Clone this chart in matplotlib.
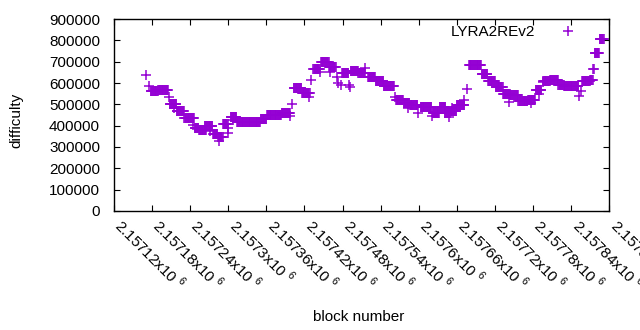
import numpy as np
import matplotlib
matplotlib.use("Agg")
import matplotlib.pyplot as plt
from matplotlib.transforms import ScaledTranslation

plt.rcParams['font.family'] = ['Liberation Sans', 'DejaVu Sans']
plt.rcParams['mathtext.fontset'] = 'custom'
plt.rcParams['mathtext.rm'] = 'Liberation Sans'

# runs of blocks with the same difficulty (offset from 2157120)
run_start = [50, 55, 58, 70, 87, 88, 95, 99, 111, 125, 127, 134, 143, 151, 156, 164, 166,
             172, 179, 180, 184, 188, 194, 231, 241, 264, 278, 281, 283, 296, 307, 311,
             314, 324, 326, 339, 340, 351, 353, 357, 359, 370, 371, 373, 385, 396, 400,
             412, 425, 442, 444, 456, 463, 466, 479, 483, 501, 502, 513, 521, 527, 530,
             532, 540, 552, 556, 559, 579, 589, 601, 613, 622, 624, 637, 652, 657, 664,
             669, 675, 676, 687, 700, 709, 732, 736, 737, 750, 755, 757, 765]
run_end = [50, 55, 69, 85, 87, 98, 95, 110, 126, 125, 133, 145, 155, 151, 163, 171, 166,
           179, 179, 180, 193, 188, 230, 240, 263, 277, 278, 281, 295, 308, 307, 311,
           324, 324, 338, 349, 340, 351, 353, 357, 369, 370, 371, 384, 395, 396, 411,
           424, 441, 442, 455, 465, 463, 478, 479, 500, 501, 512, 522, 529, 527, 539,
           532, 552, 552, 556, 578, 588, 600, 612, 623, 622, 636, 651, 663, 657, 673,
           669, 675, 686, 699, 708, 731, 732, 736, 749, 754, 756, 764, 771]
run_diff = [637, 586, 561, 566, 536, 503, 481, 467, 434, 403, 391, 378, 397, 376, 361, 345, 328,
            408, 387, 367, 440, 427, 416, 430, 450, 459, 445, 502, 575, 552, 536, 614,
            664, 653, 697, 674, 653, 630, 598, 590, 645, 590, 581, 658, 648, 669, 628,
            610, 584, 533, 519, 508, 481, 495, 461, 486, 445, 461, 487, 459, 439, 469,
            481, 497, 520, 570, 683, 641, 608, 580, 547, 512, 542, 516, 520, 505, 567,
            548, 606, 611, 616, 592, 584, 539, 564, 609, 614, 664, 739, 805]

block0 = 2157120
tick_blocks = np.arange(2157120, 2157901, 60)

blocks = []
diffs = []
for s, e, d in zip(run_start, run_end, run_diff):
    for b in range(s, e + 1):
        blocks.append(block0 + b)
        diffs.append(d * 1000)

fs = 11

fig = plt.figure(figsize=(6.4, 3.3), dpi=100)
ax = fig.add_axes([0.178, 0.361, 0.774, 0.581])

ax.plot(blocks, diffs, linestyle='none', marker='+', color='#9400D3',
        markersize=6.5, markeredgewidth=1.1, label='LYRA2REv2')

ax.set_xlim(2157120, 2157900)
ax.set_ylim(0, 900000)
ax.set_yticks(np.arange(0, 900001, 100000))
ax.set_yticklabels([str(v) for v in range(0, 900001, 100000)], fontsize=fs)
ax.set_xticks(tick_blocks)
labels = []
for t in tick_blocks:
    s = ('%g' % (t / 1e6))
    labels.append(s + 'x10 $^{6}$')
ax.set_xticklabels(labels, rotation=-45, ha='left', va='top',
                   rotation_mode='anchor', fontsize=fs)
ax.tick_params(direction='in', top=True, right=True, length=4, width=0.8)
ax.tick_params(axis='y', pad=10)
ax.tick_params(axis='x', pad=9)
# shift rotated labels so the first digit sits just under the tick
for lab in ax.get_xticklabels():
    lab.set_transform(lab.get_transform() + ScaledTranslation(0.11, 0.08, fig.dpi_scale_trans))
for sp in ax.spines.values():
    sp.set_linewidth(1.0)

ax.set_xlabel('block number', fontsize=fs)
ax.xaxis.set_label_coords(0.495, -0.515)
ax.set_ylabel('difficulty', fontsize=fs)
ax.yaxis.set_label_coords(-0.183, 0.47)

leg = ax.legend(loc='upper right', frameon=False, fontsize=fs, markerfirst=False,
                handlelength=2.2, handletextpad=1.0, borderaxespad=0.0,
                bbox_to_anchor=(0.962, 1.0))

fig.savefig('out.png', dpi=100)
